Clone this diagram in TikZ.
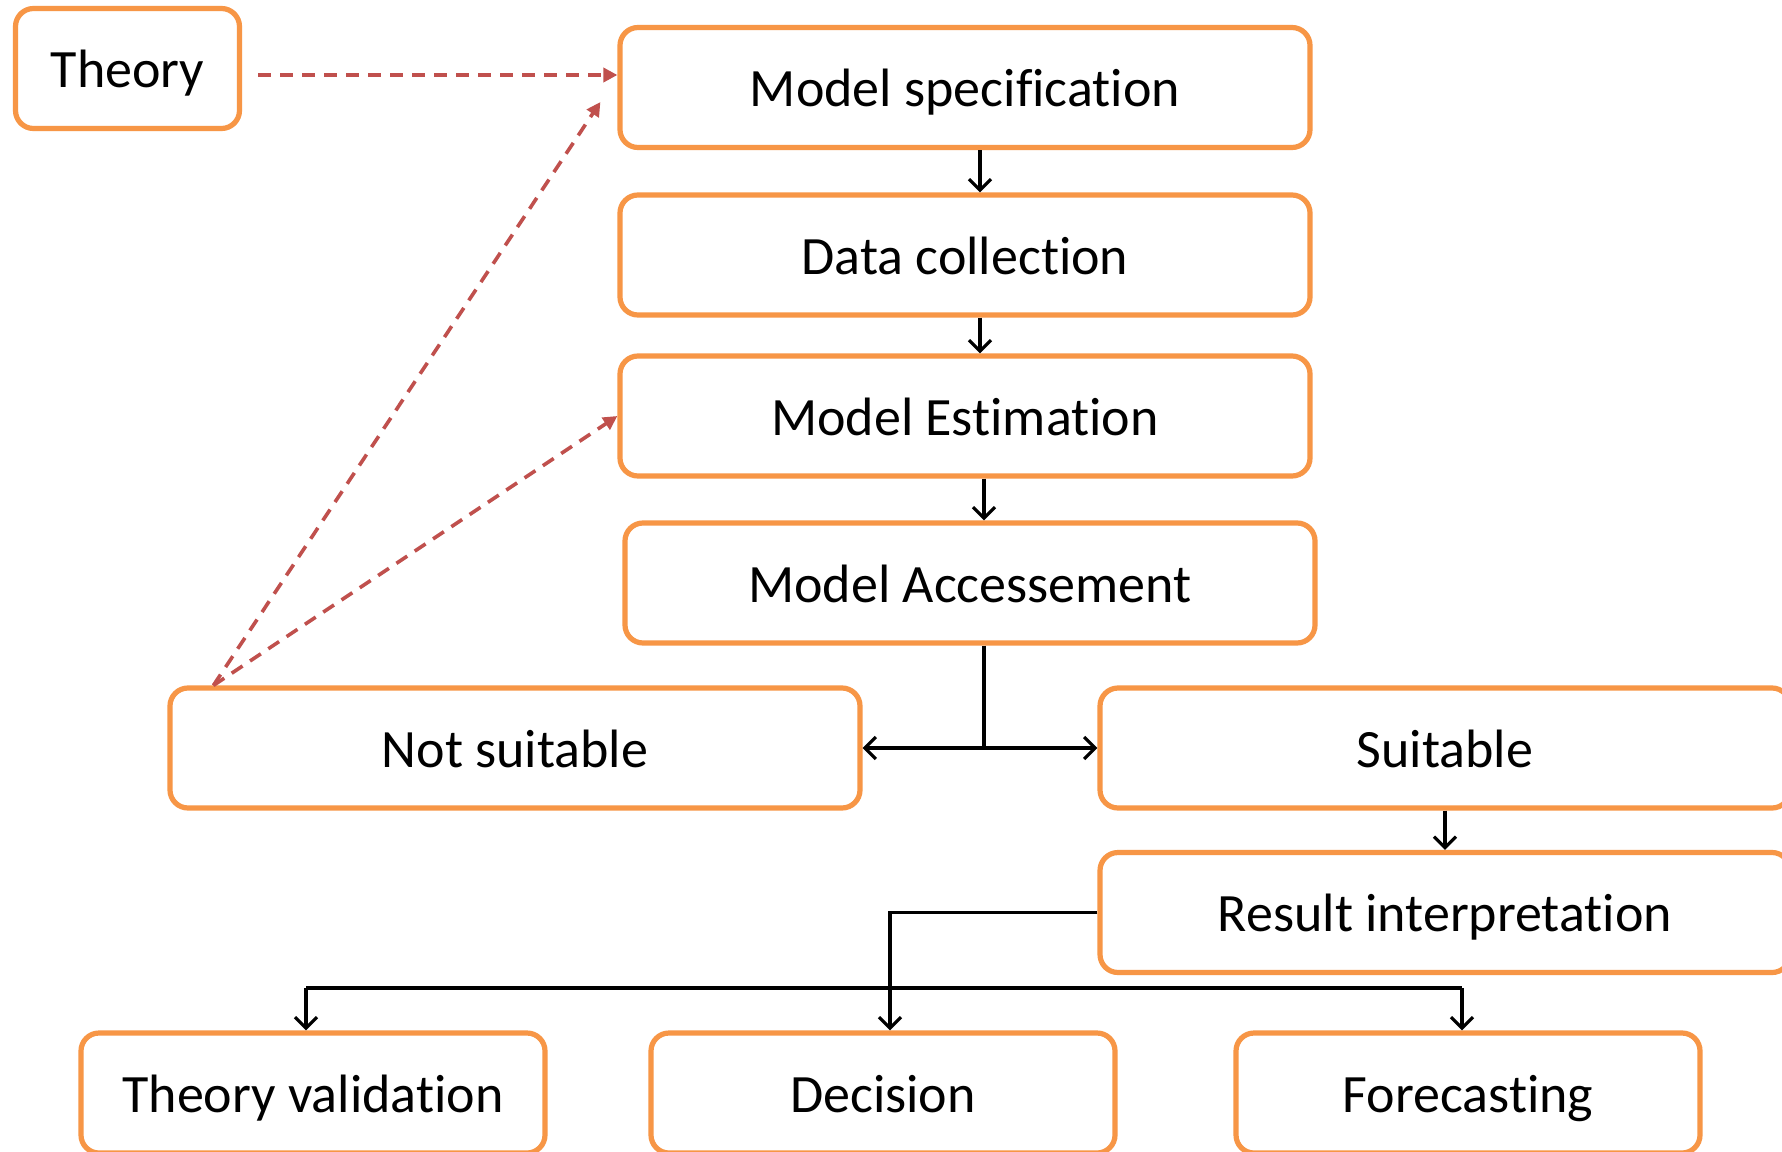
\documentclass[tikz,border=0pt]{standalone}
\usepackage{fontspec}
\setmainfont{Carlito}[Ligatures=NoCommon]
\usetikzlibrary{arrows.meta}
\definecolor{boxorange}{RGB}{247,150,70}
\definecolor{linkred}{RGB}{192,80,77}

\begin{document}
\begin{tikzpicture}[x=0.5pt, y=-0.5pt, >={Straight Barb[length=5.5pt,width=11pt]},
    stage/.style={draw=boxorange, line width=2.6pt, rounded corners=9pt, fill=white,
      minimum width=345pt, minimum height=60pt, text height=23pt, text depth=4pt,
      font=\fontsize{27}{32}\selectfont},
    outcome/.style={stage, minimum width=232pt},
    flow/.style={->, line width=1.6pt},
    back/.style={-{Triangle[length=7pt,width=7pt]}, linkred, line width=1.8pt, dash pattern=on 6.5pt off 4.5pt}]
  \clip (0,0) rectangle (1782,1151);
  \fill[white] (0,0) rectangle (1782,1151);
  \node[stage, minimum width=112pt] (theory) at (127.5,68.5) {Theory};
  \node[stage] (spec) at (965,87.5) {Model specification};
  \node[stage] (data) at (965,255) {Data collection};
  \node[stage] (est) at (965,416) {Model Estimation};
  \node[stage] (acc) at (970,583) {Model Accessement};
  \node[stage] (notsuit) at (515,748) {Not suitable};
  \node[stage] (suit) at (1445,748) {Suitable};
  \node[stage] (result) at (1445,912.5) {Result interpretation};
  \node[outcome] (theoval) at (313,1093) {Theory validation};
  \node[outcome] (decision) at (883,1093) {Decision};
  \node[outcome] (forecast) at (1468,1093) {Forecasting};
  % main chain
  \draw[flow] ([xshift=7.5pt]spec.south) -- ([xshift=7.5pt]data.north);
  \draw[flow] ([xshift=7.5pt]data.south) -- ([xshift=7.5pt]est.north);
  \draw[flow] ([xshift=7pt]acc.north |- est.south) -- ([xshift=7pt]acc.north);
  \coordinate (fork) at ([xshift=7pt]acc.south |- notsuit.east);
  \draw[line width=1.6pt] ([xshift=7pt]acc.south) -- (fork);
  \draw[flow] (fork) -- (notsuit.east);
  \draw[flow] (fork) -- (suit.west);
  \draw[flow] (suit) -- (result);
  % outputs
  \coordinate (bar) at (0,988);
  \draw[flow] (result.west) -| ([xshift=3.5pt]decision.north);
  \draw[line width=1.6pt] ([xshift=-3.5pt]theoval.north |- bar) -- ([xshift=-3pt]forecast.north |- bar);
  \draw[flow] ([xshift=-3.5pt]theoval.north |- bar) -- ([xshift=-3.5pt]theoval.north);
  \draw[flow] ([xshift=-3pt]forecast.north |- bar) -- ([xshift=-3pt]forecast.north);
  % feedback
  \draw[back] ([xshift=8pt,yshift=-3.25pt]theory.east) -- ([yshift=-3.25pt]theory.east -| spec.west);
  \draw[back] ([xshift=23pt]notsuit.north west) -- ([xshift=-8.5pt,yshift=-7.25pt]spec.west);
  \draw[back] ([xshift=23pt]notsuit.north west) -- (est.west);
\end{tikzpicture}
\end{document}
